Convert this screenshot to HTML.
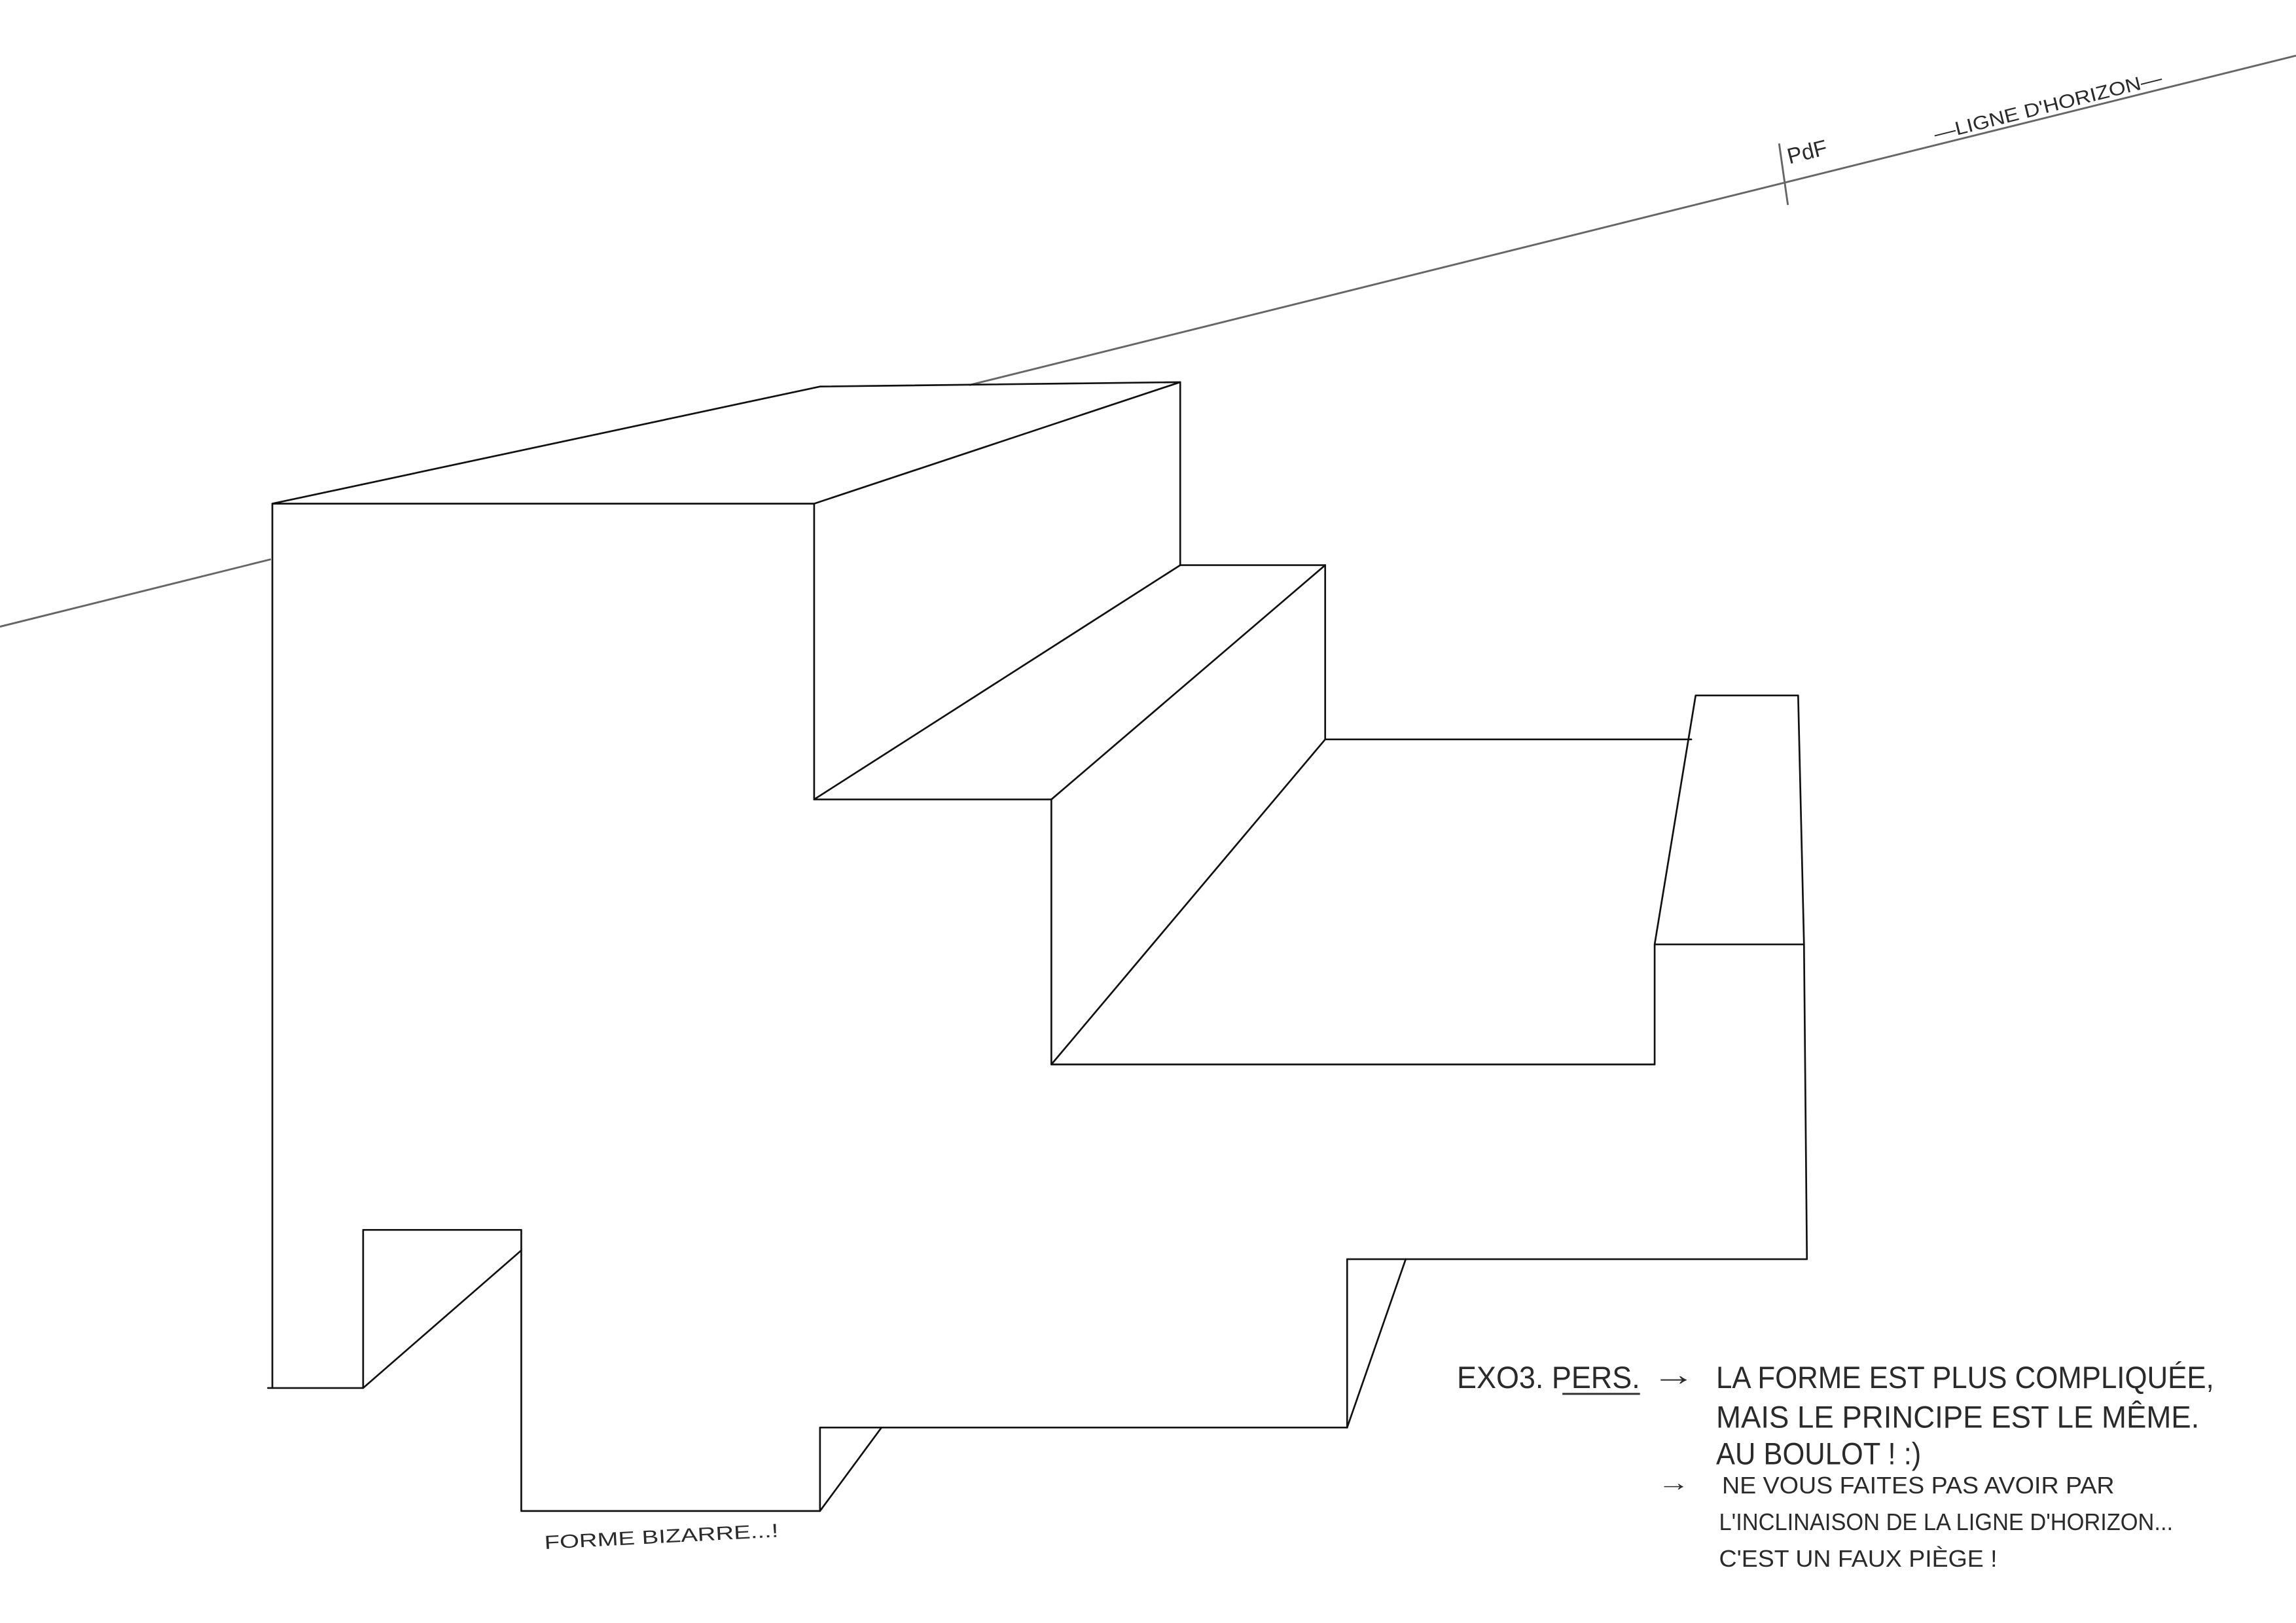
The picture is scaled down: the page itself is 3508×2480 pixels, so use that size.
<!DOCTYPE html>
<html><head><meta charset="utf-8"><style>
html,body{margin:0;padding:0;background:#fff;}
svg{display:block;}
text{font-family:"Liberation Sans",sans-serif;fill:#2a2a2a;}
</style></head><body>
<svg width="3508" height="2480" viewBox="0 0 1568 1108.5" preserveAspectRatio="none" xmlns="http://www.w3.org/2000/svg">
<rect width="1568" height="1109" fill="#fff"/>
<g stroke="#666" stroke-width="1.3" fill="none">
<line x1="0" y1="428" x2="185" y2="382"/>
<line x1="662" y1="263" x2="1568" y2="38"/>
<line x1="1215" y1="98" x2="1221" y2="140"/>
</g>
<text x="1222" y="112" font-size="15" transform="rotate(-14 1222 112)">PdF</text>
<text x="1322" y="96" font-size="13" textLength="160" lengthAdjust="spacingAndGlyphs" transform="rotate(-14 1322 96)">—LIGNE D'HORIZON—</text>
<g stroke="#111" stroke-width="1.2" fill="none" stroke-linejoin="round" stroke-linecap="round">
<polyline points="186,344 560,264 806,261 556,344 186,344"/>
<line x1="806" y1="261" x2="806" y2="386"/>
<line x1="556" y1="344" x2="556" y2="546"/>
<polyline points="556,546 718,546 718,727 1130,727 1130,645 1158,475 1228,475 1232,645 1130,645"/>
<line x1="556" y1="546" x2="806" y2="386"/>
<line x1="806" y1="386" x2="905" y2="386"/>
<line x1="718" y1="546" x2="905" y2="386"/>
<line x1="905" y1="386" x2="905" y2="505"/>
<line x1="718" y1="727" x2="905" y2="505"/>
<line x1="905" y1="505" x2="1155" y2="505"/>
<polyline points="1232,645 1234,860 920,860 920,975 560,975 560,1032 356,1032 356,840 248,840 248,948 183,948"/>
<line x1="186" y1="344" x2="186" y2="948"/>
<line x1="248" y1="948" x2="356" y2="854"/>
<line x1="920" y1="975" x2="960" y2="860"/>
<line x1="560" y1="1032" x2="602" y2="975"/>
</g>
<text x="372" y="1058" font-size="13" textLength="160" lengthAdjust="spacingAndGlyphs" transform="rotate(-3 372 1058)">FORME BIZARRE...!</text>
<g font-size="21">
<text x="995" y="948" textLength="125" lengthAdjust="spacingAndGlyphs">EXO3. PERS.</text>
<line x1="1067" y1="952" x2="1120" y2="952" stroke="#333" stroke-width="1.3"/>
<text x="1128" y="946" textLength="30" lengthAdjust="spacingAndGlyphs">→</text>
<text x="1172" y="948" textLength="340" lengthAdjust="spacingAndGlyphs">LA FORME EST PLUS COMPLIQUÉE,</text>
<text x="1172" y="975" textLength="330" lengthAdjust="spacingAndGlyphs">MAIS LE PRINCIPE EST LE MÊME.</text>
<text x="1172" y="1000" textLength="140" lengthAdjust="spacingAndGlyphs">AU BOULOT ! :)</text>
</g>
<g font-size="16">
<text x="1132" y="1018" textLength="22" lengthAdjust="spacingAndGlyphs">→</text>
<text x="1176" y="1020" textLength="268" lengthAdjust="spacingAndGlyphs">NE VOUS FAITES PAS AVOIR PAR</text>
<text x="1174" y="1045" textLength="310" lengthAdjust="spacingAndGlyphs">L'INCLINAISON DE LA LIGNE D'HORIZON...</text>
<text x="1174" y="1070" textLength="190" lengthAdjust="spacingAndGlyphs">C'EST UN FAUX PIÈGE !</text>
</g>
</svg>
</body></html>
